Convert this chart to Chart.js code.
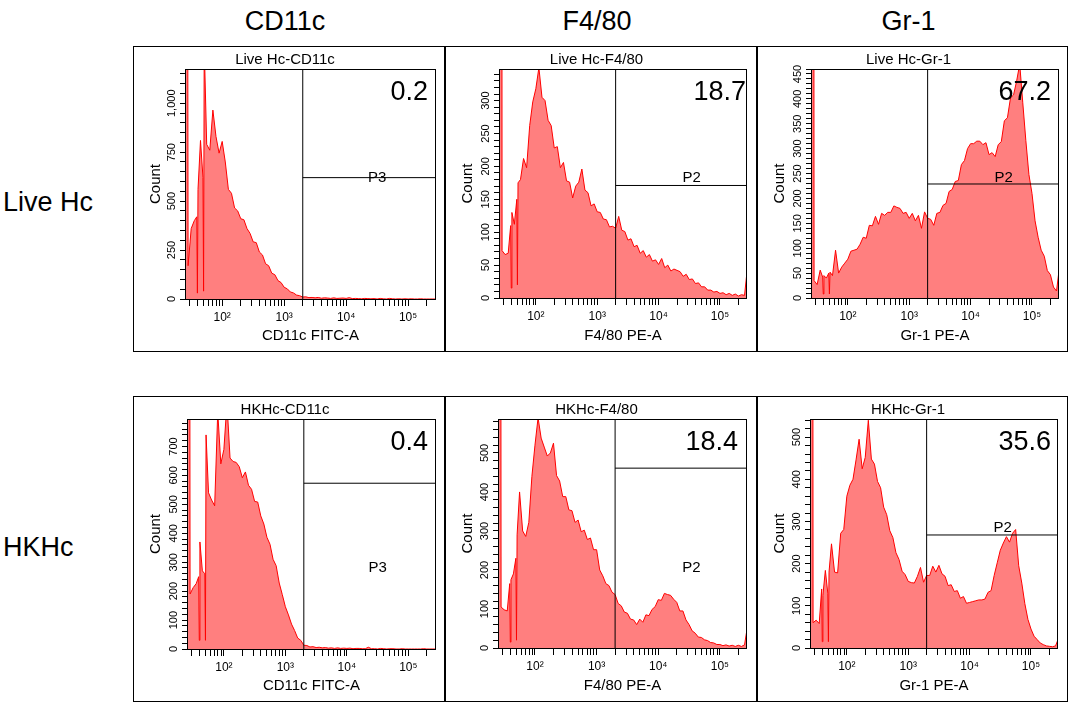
<!DOCTYPE html>
<html>
<head>
<meta charset="utf-8">
<script src="https://cdn.jsdelivr.net/npm/chart.js@4.4.1/dist/chart.umd.min.js"></script>
<style>
  body { margin: 0; background: #fff; width: 1068px; height: 702px; position: relative; overflow: hidden;
         font-family: 'Liberation Sans', Arial, sans-serif; color: #000; }
  .panel { position: absolute; border: 1px solid #000; box-sizing: border-box; }
  .panel canvas { display: block; }
  .hdr { position: absolute; font-size: 27px; line-height: 27px; white-space: nowrap; }
</style>
</head>
<body>
<script>
// histogram bins, in log10 of the channel value
const binLog = [1.41, 1.45, 1.50, 1.55, 1.59, 1.60, 1.61, 1.65, 1.69, 1.70, 1.71, 1.75, 1.80, 1.85, 1.90, 1.95,
    2.00, 2.05, 2.10, 2.15, 2.20, 2.25, 2.30, 2.35, 2.40, 2.45, 2.50, 2.55, 2.60, 2.65, 2.70, 2.75, 2.80, 2.85, 2.90, 2.95,
    3.00, 3.05, 3.10, 3.15, 3.20, 3.25, 3.30, 3.35, 3.40, 3.45, 3.50, 3.55, 3.60, 3.65, 3.70, 3.75, 3.80, 3.85, 3.90, 3.95,
    4.00, 4.05, 4.10, 4.15, 4.20, 4.25, 4.30, 4.35, 4.40, 4.45, 4.50, 4.55, 4.60, 4.65, 4.70, 4.75, 4.80, 4.85, 4.90, 4.95,
    5.00, 5.05, 5.10, 5.15, 5.20, 5.25, 5.30, 5.35, 5.40, 5.44];

const liveCD11c = [9000, 170, 360, 400, 420, 30, 560, 810, 620, 40, 1300, 790, 760, 965, 830, 745,
    805, 700, 560, 540, 465, 450, 410, 405, 360, 335, 292, 288, 240, 225, 180, 170, 132, 124, 94, 84,
    60, 52, 36, 31, 20, 17, 10, 11, 7, 8, 6, 8, 4, 6, 5, 3, 6, 3, 4, 5,
    3, 7, 2, 3, 2, 1, 3, 2, 1, 2, 0, 3, 1, 0, 3, 1, 0, 1, 0, 1,
    0, 1, 0, 0, 1, 0, 0, 0, 0, 0];
const liveF480 = [9000, 72, 66, 68, 110, 15, 130, 112, 150, 20, 175, 180, 212, 198, 262, 298,
    318, 350, 305, 300, 270, 262, 228, 230, 198, 206, 178, 176, 152, 170, 176, 196, 164, 160, 140, 143,
    131, 130, 120, 119, 108, 109, 106, 124, 103, 101, 88, 90, 78, 80, 68, 72, 62, 66, 56, 58,
    51, 60, 46, 50, 41, 44, 42, 40, 33, 36, 28, 29, 22, 23, 17, 17, 12, 12, 9, 10,
    7, 8, 5, 7, 4, 6, 3, 5, 4, 40];
const liveGr1 = [9000, 35, 27, 56, 42, 8, 45, 40, 50, 8, 52, 45, 96, 50, 62, 70,
    78, 94, 96, 98, 108, 122, 120, 146, 145, 164, 148, 170, 166, 172, 172, 185, 182, 180, 170, 172,
    160, 170, 155, 166, 140, 173, 160, 158, 146, 170, 172, 186, 190, 214, 218, 234, 236, 268, 276, 300,
    310, 310, 315, 315, 308, 312, 288, 292, 284, 308, 314, 356, 362, 402, 408, 436, 470, 392, 316, 248,
    210, 155, 122, 96, 84, 55, 47, 22, 14, 55];
const hkCD11c = [9000, 190, 212, 226, 250, 30, 370, 270, 260, 30, 740, 540, 515, 495, 820, 640,
    690, 850, 660, 648, 645, 630, 592, 612, 566, 552, 510, 508, 460, 432, 386, 362, 310, 288, 228, 188,
    146, 118, 86, 64, 38, 30, 13, 12, 7, 8, 5, 6, 4, 5, 3, 4, 2, 4, 2, 3,
    2, 3, 1, 2, 2, 1, 1, 6, 1, 1, 0, 2, 1, 0, 1, 1, 0, 0, 1, 0,
    0, 0, 0, 0, 0, 1, 0, 0, 0, 0];
const hkF480 = [9000, 105, 98, 95, 165, 15, 175, 190, 230, 20, 290, 400, 300, 286, 322, 440,
    520, 590, 538, 515, 492, 500, 525, 442, 428, 388, 388, 354, 352, 322, 328, 298, 302, 278, 282, 252,
    252, 200, 185, 165, 160, 143, 137, 114, 108, 92, 89, 74, 72, 60, 74, 66, 85, 83, 99, 106,
    124, 122, 140, 137, 135, 125, 117, 95, 95, 72, 60, 44, 38, 28, 27, 21, 19, 14, 13, 9,
    9, 6, 8, 5, 7, 4, 7, 4, 8, 48];
const hkGr1 = [9000, 60, 66, 58, 140, 15, 125, 184, 130, 15, 180, 247, 180, 178, 272, 281,
    360, 386, 400, 446, 495, 425, 452, 540, 448, 436, 395, 380, 334, 316, 278, 262, 226, 210, 182, 174,
    158, 155, 154, 170, 191, 156, 172, 172, 194, 180, 196, 176, 170, 148, 150, 134, 136, 118, 122, 106,
    108, 110, 112, 114, 114, 116, 132, 136, 172, 202, 232, 249, 264, 251, 272, 281, 195, 154, 105, 68,
    45, 28, 20, 12, 8, 5, 4, 3, 5, 20];

const colLabels = ['CD11c', 'F4/80', 'Gr-1'];
const rowLabels = ['Live Hc', 'HKHc'];
const panelTitles = ['Live Hc-CD11c', 'Live Hc-F4/80', 'Live Hc-Gr-1', 'HKHc-CD11c', 'HKHc-F4/80', 'HKHc-Gr-1'];
const axisTitles = ['CD11c FITC-A', 'F4/80 PE-A', 'Gr-1 PE-A'];
const percents = ['0.2', '18.7', '67.2', '0.4', '18.4', '35.6'];
const gateNames = ['P3', 'P2', 'P2', 'P3', 'P2', 'P2'];
const gateLevels = [620, 171, 229, 573, 461, 268];
const gateLabelAt = [[4.50, 620], [4.54, 182], [4.54, 241], [4.50, 280], [4.54, 205], [4.54, 284]];
const gateLog = 3.3;
const yMaxes = [1175, 348, 460, 795, 587, 543];
const yMinorSteps = [50, 10, 10, 20, 20, 20];
const yLabelSteps = [250, 50, 50, 100, 100, 100];
const xMajorLogs = [2, 3, 4, 5];
const xMajorLabels = ['10²', '10³', '10⁴', '10⁵'];
const xMinorMult = [2, 3, 4, 5, 6, 7, 8, 9];
const series = [liveCD11c, liveF480, liveGr1, hkCD11c, hkF480, hkGr1];

// layout of the six boxes (page pixels)
const colLeft = [133, 445, 757], colWidth = [312, 312, 311];
const rowTop = [46, 396], rowHeight = 306;
const axisW = [51, 53, 53, 53, 52, 52];
const axisH = [52, 53, 53, 52, 53, 53];
const padRight = [8, 9, 8, 8, 9, 9];
const pctInset = [8, 1, 8, 8, 9, 7];
const xMaxes = [5.45, 5.44, 5.44, 5.45, 5.44, 5.44];

const FONT = "'Liberation Sans', Arial, sans-serif";
const TICK_FONT = "'Liberation Sans Narrow', 'Liberation Sans', Arial, sans-serif";
Chart.defaults.font.family = FONT;
Chart.defaults.color = '#000';

const meas = document.createElement('canvas').getContext('2d');
meas.font = '11px ' + TICK_FONT;

function xTickValues(min, max) {
    const out = [];
    for (let d = 1; d <= 5; d++) {
        [1, ...xMinorMult].forEach(m => {
            const v = d + Math.log10(m);
            if (v >= min && v <= max) out.push(v);
        });
    }
    return out;
}

const framePlugin = {
    id: 'frame',
    afterDraw(chart) {
        const { ctx, chartArea: a } = chart;
        ctx.save();
        ctx.strokeStyle = '#000';
        ctx.lineWidth = 1;
        ctx.strokeRect(a.left + 0.5, a.top + 0.5, a.right - a.left - 1, a.bottom - a.top);
        ctx.restore();
    }
};

const notePlugin = {
    id: 'notes',
    afterDatasetsDraw(chart, args, o) {
        const { ctx, chartArea: a, scales } = chart;
        ctx.save();
        ctx.fillStyle = '#000';
        ctx.font = '27px ' + FONT;
        ctx.textAlign = 'right';
        ctx.textBaseline = 'alphabetic';
        ctx.fillText(o.pct, a.right - o.inset, a.top + 31);
        ctx.font = '15px ' + FONT;
        ctx.textAlign = 'center';
        ctx.textBaseline = 'middle';
        ctx.fillText(o.gate, scales.x.getPixelForValue(o.at[0]), scales.y.getPixelForValue(o.at[1]));
        ctx.restore();
    }
};

colLabels.forEach((t, c) => {
    const d = document.createElement('div');
    d.className = 'hdr';
    d.textContent = t;
    d.style.left = (colLeft[c] - 4) + 'px';
    d.style.width = colWidth[c] + 'px';
    d.style.textAlign = 'center';
    d.style.top = '8px';
    document.body.appendChild(d);
});
rowLabels.forEach((t, r) => {
    const d = document.createElement('div');
    d.className = 'hdr';
    d.textContent = t;
    d.style.left = '3px';
    d.style.top = (189 + r * 345) + 'px';
    document.body.appendChild(d);
});

series.forEach((counts, i) => {
    const r = Math.floor(i / 3), c = i % 3;
    const box = document.createElement('div');
    box.className = 'panel';
    box.style.left = colLeft[c] + 'px';
    box.style.top = rowTop[r] + 'px';
    box.style.width = colWidth[c] + 'px';
    box.style.height = rowHeight + 'px';
    const canvas = document.createElement('canvas');
    canvas.width = colWidth[c] - 2;
    canvas.height = rowHeight - 2;
    box.appendChild(canvas);
    document.body.appendChild(box);

    const xMin = 1.40, xMax = xMaxes[i];
    const yLabels = [];
    for (let v = 0; v <= yMaxes[i]; v += yLabelSteps[i]) yLabels.push(v.toLocaleString('en-US'));
    const widest = Math.max(...yLabels.map(s => meas.measureText(s).width));

    new Chart(canvas, {
        type: 'line',
        data: {
            datasets: [
                {
                    data: binLog.map((x, k) => ({ x, y: counts[k] })),
                    borderColor: '#ff0000',
                    backgroundColor: 'rgba(255, 0, 0, 0.5)',
                    borderWidth: 1,
                    fill: 'origin',
                    pointRadius: 0,
                    tension: 0,
                    order: 5
                },
                {
                    data: [{ x: gateLog, y: 0 }, { x: gateLog, y: yMaxes[i] }],
                    borderColor: '#000', borderWidth: 1, pointRadius: 0, fill: false, order: 1
                },
                {
                    data: [{ x: gateLog, y: gateLevels[i] }, { x: xMax, y: gateLevels[i] }],
                    borderColor: '#000', borderWidth: 1, pointRadius: 0, fill: false, order: 1
                }
            ]
        },
        options: {
            responsive: false,
            animation: false,
            events: [],
            layout: { padding: { left: 0, right: padRight[i], top: 0, bottom: 0 } },
            plugins: {
                legend: { display: false },
                tooltip: { enabled: false },
                title: {
                    display: true, text: panelTitles[i], color: '#000',
                    font: { size: 15, weight: 'normal' }, padding: { top: 4, bottom: 0 }
                },
                notes: { pct: percents[i], inset: pctInset[i], gate: gateNames[i], at: gateLabelAt[i] }
            },
            scales: {
                x: {
                    type: 'linear', min: xMin, max: xMax,
                    afterBuildTicks: s => { s.ticks = xTickValues(xMin, xMax).map(v => ({ value: v })); },
                    afterFit: s => { s.height = axisH[i]; },
                    border: { display: false },
                    grid: { display: true, drawOnChartArea: false, drawTicks: true, tickLength: 7, color: '#000' },
                    ticks: {
                        autoSkip: false, maxRotation: 0, minRotation: 0, padding: 4, color: '#000',
                        font: { size: 12, family: TICK_FONT },
                        callback: v => { const k = xMajorLogs.indexOf(v); return k >= 0 ? xMajorLabels[k] : ''; }
                    },
                    title: {
                        display: true, text: axisTitles[c], color: '#000',
                        font: { size: 15 }, padding: { top: 0, bottom: 6 }
                    }
                },
                y: {
                    type: 'linear', min: 0, max: yMaxes[i],
                    afterFit: s => { s.width = axisW[i]; },
                    border: { display: false },
                    grid: { display: true, drawOnChartArea: false, drawTicks: true, tickLength: 5, color: '#000' },
                    ticks: {
                        stepSize: yMinorSteps[i], includeBounds: false, autoSkip: false,
                        minRotation: 90, maxRotation: 90, crossAlign: 'center',
                        padding: 8 - widest / 2, color: '#000',
                        font: { size: 11, family: TICK_FONT },
                        callback: v => (v % yLabelSteps[i] === 0 ? v.toLocaleString('en-US') : '')
                    },
                    title: {
                        display: true, text: 'Count', color: '#000',
                        font: { size: 15 }, padding: { top: 13, bottom: 0 }
                    }
                }
            }
        },
        plugins: [framePlugin, notePlugin]
    });
});
</script>
</body>
</html>
